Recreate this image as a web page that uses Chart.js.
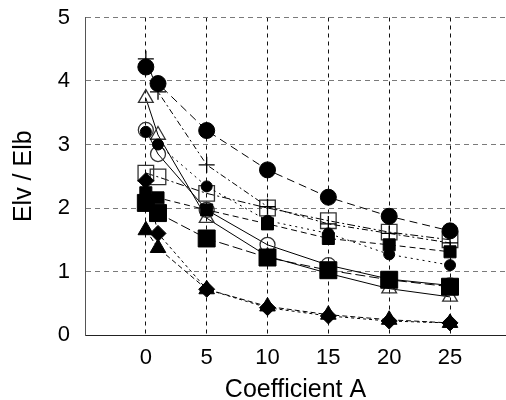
<!DOCTYPE html>
<html>
<head>
<meta charset="utf-8">
<script src="https://cdn.jsdelivr.net/npm/chart.js@4/dist/chart.umd.min.js"></script>
<style>
  html, body { margin: 0; padding: 0; background: #fff; }
  #wrap { width: 506px; height: 400px; }
</style>
</head>
<body>
<div id="wrap"><canvas id="chart"></canvas></div>
<script>
// Valores
const coeffA = [0, 1, 5, 10, 15, 20, 25];

const bigCircle      = [4.22, 3.96, 3.22, 2.60, 2.17, 1.87, 1.64];
const plusSeries     = [4.35, 3.83, 2.68, 2.02, 1.75, 1.60, 1.45];
const openTriangle   = [3.73, 3.15, 1.84, 1.24, 0.97, 0.73, 0.60];
const openCircle     = [3.23, 2.85, 1.97, 1.42, 1.10, 0.88, 0.78];
const smallCircle    = [3.20, 3.00, 2.34, 1.80, 1.60, 1.27, 1.10];
const openSquare     = [2.55, 2.49, 2.23, 2.00, 1.80, 1.62, 1.50];
const smallSquare    = [2.24, 2.16, 1.97, 1.75, 1.52, 1.42, 1.31];
const bigSquare      = [2.08, 1.92, 1.52, 1.22, 1.02, 0.87, 0.76];
const diamond        = [2.43, 1.60, 0.72, 0.43, 0.30, 0.22, 0.19];
const filledTriangle = [1.65, 1.37, 0.72, 0.45, 0.32, 0.24, 0.19];

const xTicks = [0, 5, 10, 15, 20, 25];
const yTicks = [0, 1, 2, 3, 4, 5];

const fontFamily = "'Liberation Sans', Arial, sans-serif";

function toPoints(values) {
    return values.map((v, i) => ({ x: coeffA[i], y: v }));
}

// Serie rellena (negra) u hueca (transparente)
function makeSeries(label, values, style, radius, filled, dash) {
    return {
        label: label,
        data: toPoints(values),
        showLine: true,
        borderColor: '#000',
        borderWidth: 1,
        borderDash: dash,
        pointStyle: style,
        pointRadius: radius,
        pointHoverRadius: radius,
        pointBackgroundColor: filled ? '#000' : 'rgba(0,0,0,0)',
        pointBorderColor: filled ? '#000' : '#333',
        pointBorderWidth: filled ? 1 : 1.3,
        fill: false
    };
}

const datasets = [
    makeSeries('bigCircle', bigCircle, 'circle', 8, true, [8, 5]),
    makeSeries('bigSquare', bigSquare, 'rect', 12, true, [10, 4]),
    makeSeries('smallCircle', smallCircle, 'circle', 5.5, true, [2, 4]),
    makeSeries('smallSquare', smallSquare, 'rect', 8.5, true, [6, 4]),
    makeSeries('diamond', diamond, 'rectRot', 8, true, [3, 3]),
    makeSeries('filledTriangle', filledTriangle, 'triangle', 9, true, [5, 3]),
    makeSeries('plus', plusSeries, 'cross', 8, false, [6, 3, 2, 3]),
    makeSeries('openSquare', openSquare, 'rect', 11, false, [8, 3, 2, 3]),
    makeSeries('openCircle', openCircle, 'circle', 7.5, false, []),
    makeSeries('openTriangle', openTriangle, 'triangle', 8.5, false, [])
];
datasets.forEach(d => { if (d.label === 'plus') d.pointBorderColor = '#000'; });

// Sin márgenes extra de las escalas: el área del gráfico la fija layout.padding
function noScalePadding(scale) {
    scale.paddingTop = 0;
    scale.paddingBottom = 0;
    scale.paddingLeft = 0;
    scale.paddingRight = 0;
}

const ctx = document.getElementById('chart').getContext('2d');
new Chart(ctx, {
    type: 'scatter',
    data: { datasets: datasets },
    options: {
        responsive: true,
        maintainAspectRatio: false,
        animation: false,
        events: [],
        layout: {
            autoPadding: false,
            padding: { top: 17.5, right: 0, bottom: 0, left: 0 }
        },
        plugins: {
            legend: { display: false },
            tooltip: { enabled: false }
        },
        scales: {
            x: {
                type: 'linear',
                min: -5,
                max: 29.6,
                afterFit: scale => { scale.height = 65; noScalePadding(scale); },
                afterBuildTicks: scale => {
                    scale.ticks = [-5].concat(xTicks).map(v => ({ value: v }));
                },
                ticks: {
                    color: '#000',
                    padding: 10,
                    font: { family: fontFamily, size: 22 },
                    callback: v => (xTicks.includes(v) ? String(v) : '')
                },
                grid: { color: '#111', lineWidth: 1, drawTicks: false },
                border: { display: true, color: '#222', width: 1, dash: [4, 4] },
                title: {
                    display: true,
                    text: 'Coefficient A',
                    color: '#000',
                    padding: { top: 0, bottom: 0 },
                    font: { family: fontFamily, size: 25, lineHeight: 0.8 }
                }
            },
            y: {
                type: 'linear',
                min: 0,
                max: 5,
                afterFit: scale => { scale.width = 85; noScalePadding(scale); },
                afterBuildTicks: scale => {
                    scale.ticks = yTicks.map(v => ({ value: v }));
                },
                ticks: {
                    color: '#000',
                    padding: 15,
                    font: { family: fontFamily, size: 22 }
                },
                grid: { color: '#7a7a7a', lineWidth: 1, drawTicks: false },
                border: { display: true, color: '#555', width: 1, dash: [5, 4] },
                title: {
                    display: true,
                    text: 'Elv / Elb',
                    color: '#000',
                    padding: { top: 9, bottom: 0 },
                    font: { family: fontFamily, size: 25 }
                }
            }
        }
    }
});
</script>
</body>
</html>
